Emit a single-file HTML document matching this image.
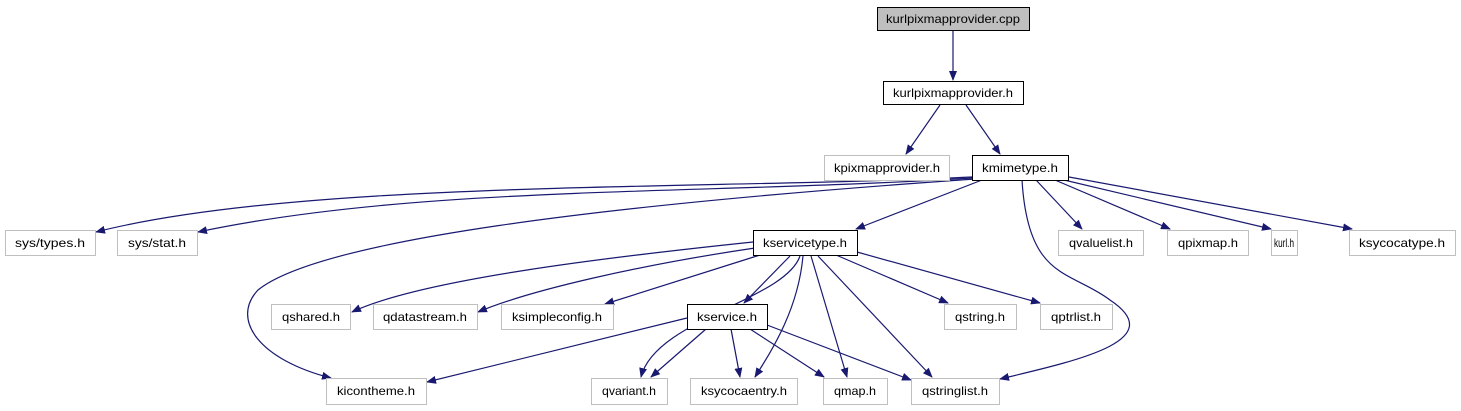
<!DOCTYPE html>
<html><head><meta charset="utf-8"><style>
html,body{margin:0;padding:0;background:#fff;}
svg{display:block;}
text{font-family:"Liberation Sans",sans-serif;font-size:12px;fill:#000;}
</style></head><body>
<svg width="1461" height="411" viewBox="0 0 1461 411" xmlns="http://www.w3.org/2000/svg">
<defs>
<marker id="a" markerWidth="10" markerHeight="8" refX="9" refY="4" orient="auto" markerUnits="userSpaceOnUse">
<path d="M0,0 L10,4 L0,8 Z" fill="#191970"/>
</marker>
</defs>
<g fill="none" stroke="#191970" stroke-width="1.2" marker-end="url(#a)">
<path d="M953,30 L953,80"/>
<path d="M940,105 L906,154"/>
<path d="M966,105 L1000,154"/>
<path d="M972,177 C700,190 300,180 96,232"/>
<path d="M972,178 C700,195 420,185 198,232"/>
<path d="M975,179 C600,205 320,240 258,290 C230,320 260,360 331,378"/>
<path d="M982,180 L856,229"/>
<path d="M1036,180 L1082,229"/>
<path d="M1055,180 L1170,229"/>
<path d="M1064,180 L1271,229"/>
<path d="M1069,177 L1352,229"/>
<path d="M1022,180 C1028,280 1070,270 1110,300 C1170,340 1080,360 1000,379"/>
<path d="M753,242 C600,258 420,280 352,312"/>
<path d="M755,248 C640,265 530,290 478,312"/>
<path d="M760,255 L605,304"/>
<path d="M790,256 L744,303"/>
<path d="M800,256 C785,300 655,320 641,377"/>
<path d="M803,256 C798,310 772,350 755,377"/>
<path d="M811,256 L847,377"/>
<path d="M818,256 L932,377"/>
<path d="M836,255 L948,303"/>
<path d="M857,252 L1040,303"/>
<path d="M687,318 L427,382"/>
<path d="M706,329 L651,377"/>
<path d="M731,329 L740,377"/>
<path d="M750,329 L824,377"/>
<path d="M767,325 L911,380"/>
</g>
<g stroke-width="1">
<rect x="877.5" y="7.5" width="152" height="23" fill="#bfbfbf" stroke="#000"/>
<rect x="883.5" y="81.5" width="140" height="23" fill="#fff" stroke="#000"/>
<rect x="824.5" y="155.5" width="125" height="25" fill="#fff" stroke="#bfbfbf"/>
<rect x="972.5" y="155.5" width="96" height="25" fill="#fff" stroke="#000"/>
<rect x="5.5" y="230.5" width="90" height="25" fill="#fff" stroke="#bfbfbf"/>
<rect x="117.5" y="230.5" width="80" height="25" fill="#fff" stroke="#bfbfbf"/>
<rect x="753.5" y="230.5" width="104" height="25" fill="#fff" stroke="#000"/>
<rect x="1058.5" y="230.5" width="85" height="25" fill="#fff" stroke="#bfbfbf"/>
<rect x="1167.5" y="230.5" width="81" height="25" fill="#fff" stroke="#bfbfbf"/>
<rect x="1271.5" y="230.5" width="26" height="25" fill="#fff" stroke="#bfbfbf"/>
<rect x="1349.5" y="230.5" width="106" height="25" fill="#fff" stroke="#bfbfbf"/>
<rect x="271.5" y="304.5" width="79" height="25" fill="#fff" stroke="#bfbfbf"/>
<rect x="373.5" y="304.5" width="104" height="25" fill="#fff" stroke="#bfbfbf"/>
<rect x="501.5" y="304.5" width="112" height="25" fill="#fff" stroke="#bfbfbf"/>
<rect x="687.5" y="304.5" width="80" height="25" fill="#fff" stroke="#000"/>
<rect x="944.5" y="304.5" width="72" height="25" fill="#fff" stroke="#bfbfbf"/>
<rect x="1040.5" y="304.5" width="72" height="25" fill="#fff" stroke="#bfbfbf"/>
<rect x="326.5" y="378.5" width="100" height="26" fill="#fff" stroke="#bfbfbf"/>
<rect x="591.5" y="378.5" width="76" height="26" fill="#fff" stroke="#bfbfbf"/>
<rect x="690.5" y="378.5" width="107" height="26" fill="#fff" stroke="#bfbfbf"/>
<rect x="823.5" y="378.5" width="64" height="26" fill="#fff" stroke="#bfbfbf"/>
<rect x="911.5" y="378.5" width="88" height="26" fill="#fff" stroke="#bfbfbf"/>
</g>
<g text-anchor="middle" lengthAdjust="spacingAndGlyphs">
<text x="953" y="23" textLength="134" lengthAdjust="spacingAndGlyphs">kurlpixmapprovider.cpp</text>
<text x="953" y="97" textLength="120" lengthAdjust="spacingAndGlyphs">kurlpixmapprovider.h</text>
<text x="887" y="172" textLength="106" lengthAdjust="spacingAndGlyphs">kpixmapprovider.h</text>
<text x="1020" y="172" textLength="76" lengthAdjust="spacingAndGlyphs">kmimetype.h</text>
<text x="50" y="247" textLength="70" lengthAdjust="spacingAndGlyphs">sys/types.h</text>
<text x="157" y="247" textLength="58" lengthAdjust="spacingAndGlyphs">sys/stat.h</text>
<text x="805" y="247" textLength="84" lengthAdjust="spacingAndGlyphs">kservicetype.h</text>
<text x="1101" y="247" textLength="64" lengthAdjust="spacingAndGlyphs">qvaluelist.h</text>
<text x="1208" y="247" textLength="60" lengthAdjust="spacingAndGlyphs">qpixmap.h</text>
<text x="1284" y="247" textLength="20" lengthAdjust="spacingAndGlyphs">kurl.h</text>
<text x="1402" y="247" textLength="86" lengthAdjust="spacingAndGlyphs">ksycocatype.h</text>
<text x="311" y="321" textLength="58" lengthAdjust="spacingAndGlyphs">qshared.h</text>
<text x="425" y="321" textLength="84" lengthAdjust="spacingAndGlyphs">qdatastream.h</text>
<text x="557" y="321" textLength="90" lengthAdjust="spacingAndGlyphs">ksimpleconfig.h</text>
<text x="727" y="321" textLength="60" lengthAdjust="spacingAndGlyphs">kservice.h</text>
<text x="980" y="321" textLength="50" lengthAdjust="spacingAndGlyphs">qstring.h</text>
<text x="1076" y="321" textLength="50" lengthAdjust="spacingAndGlyphs">qptrlist.h</text>
<text x="376" y="395" textLength="78" lengthAdjust="spacingAndGlyphs">kicontheme.h</text>
<text x="629" y="395" textLength="54" lengthAdjust="spacingAndGlyphs">qvariant.h</text>
<text x="744" y="395" textLength="86" lengthAdjust="spacingAndGlyphs">ksycocaentry.h</text>
<text x="855" y="395" textLength="42" lengthAdjust="spacingAndGlyphs">qmap.h</text>
<text x="955" y="395" textLength="66" lengthAdjust="spacingAndGlyphs">qstringlist.h</text>
</g>
</svg>
</body></html>
